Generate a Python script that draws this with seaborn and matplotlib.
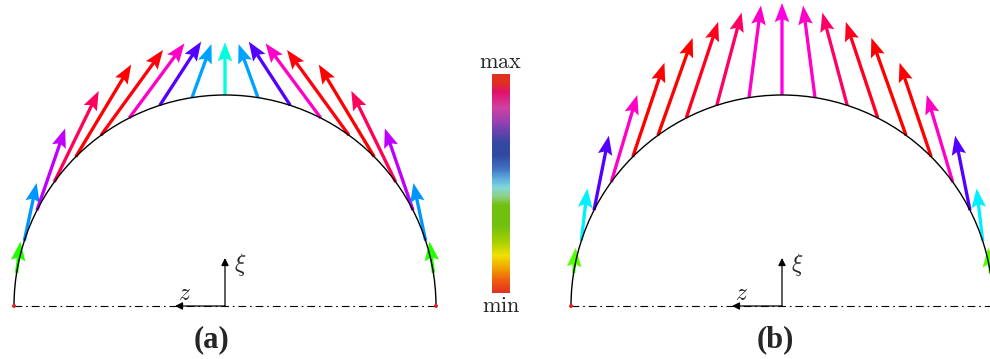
import numpy as np
import pandas as pd
import matplotlib
matplotlib.use("Agg")
import matplotlib.pyplot as plt
import seaborn as sns
from matplotlib.colors import LinearSegmentedColormap
from matplotlib.patches import Arc

# ---------------- data ----------------
# position of each arrow tail on the unit semicircle, angle from the xi axis (deg, negative = left)
theta_deg = [-81, -72, -63, -54, -45, -36, -27, -18, -9, 0, 9, 18, 27, 36, 45, 54, 63, 72, 81]

# panel (a): arrow inclination from vertical (deg, + = leaning right), length (radius units), level (0=min .. 1=max)
tilt_a = [7, 12, 19, 26, 31, 36, 36.5, 33, 20, 0, -20, -33, -36.5, -36, -31, -26, -19, -12, -7]
len_a = [0.15, 0.28, 0.41, 0.48, 0.51, 0.50, 0.44, 0.36, 0.27, 0.25, 0.27, 0.36, 0.44, 0.50, 0.51, 0.48, 0.41, 0.28, 0.15]
level_a = [0.31, 0.57, 0.79, 0.94, 1.0, 0.99, 0.87, 0.72, 0.56, 0.48, 0.56, 0.72, 0.87, 0.99, 1.0, 0.94, 0.79, 0.57, 0.31]

# panel (b)
tilt_b = [5, 6.6, 11.3, 16.6, 18.6, 19.6, 18.4, 15, 7.4, 0, -7.4, -15, -18.4, -19.6, -18.6, -16.6, -11.3, -6.6, -5]
len_b = [0.12, 0.25, 0.36, 0.43, 0.47, 0.49, 0.48, 0.455, 0.44, 0.436, 0.44, 0.455, 0.48, 0.49, 0.47, 0.43, 0.36, 0.25, 0.12]
level_b = [0.28, 0.51, 0.72, 0.87, 1.0, 1.0, 0.98, 0.93, 0.87, 0.85, 0.87, 0.93, 0.98, 1.0, 1.0, 0.87, 0.72, 0.51, 0.28]

panel_labels = ["(a)", "(b)"]
bar_labels = ["max", "min"]

# ---------------- style ----------------
sns.set_theme(style="white")
plt.rcParams["mathtext.fontset"] = "cm"
plt.rcParams["font.family"] = ["DejaVu Sans"]

W, H = 990, 359
R = 211.0  # circle radius in pixels

# vivid hue colormap for arrows (red -> yellow -> green -> cyan -> blue -> magenta -> red)
arrow_cmap = LinearSegmentedColormap.from_list(
    "hue", ["#ff0000", "#ffff00", "#00ff00", "#00ffff", "#0000ff", "#ff00ff", "#ff0000"])
# muted colormap for the colour bar
bar_cmap = LinearSegmentedColormap.from_list("bar", [
    (0.00, "#E03020"), (0.06, "#F06010"), (0.11, "#F0A000"), (0.17, "#F0E000"),
    (0.23, "#A8D000"), (0.31, "#70C010"), (0.40, "#70C010"), (0.44, "#90D080"),
    (0.48, "#80D8D8"), (0.52, "#60B0E0"), (0.57, "#4070C0"), (0.63, "#3048A0"),
    (0.68, "#3048A0"), (0.745, "#7040B0"), (0.79, "#A040B0"), (0.85, "#D040A0"),
    (0.92, "#E0106A"), (0.96, "#E03020"), (1.00, "#E03020")])

fig = plt.figure(figsize=(W / 100, H / 100), dpi=100)


def panel(px_left, px_right, cx, tilt, length, level, label, label_dx):
    ax = fig.add_axes([px_left / W, 0, (px_right - px_left) / W, 1])
    ax.set_xlim((px_left - cx) / R, (px_right - cx) / R)
    ax.set_ylim(-(H - 306) / R, 306 / R)
    ax.axis("off")

    th = np.radians(theta_deg)
    tl = np.radians(tilt)
    L = np.asarray(length)
    df = pd.DataFrame({"x": np.sin(th), "y": np.cos(th),
                       "u": L * np.sin(tl), "v": L * np.cos(tl), "lev": level})

    ax.quiver(df.x, df.y, df.u, df.v, color=arrow_cmap(df.lev.values),
              angles="xy", scale_units="xy", scale=1, units="dots",
              width=3.3, headwidth=4.4, headlength=5.8, headaxislength=5.0,
              pivot="tail", zorder=3)

    ax.add_patch(Arc((0, 0), 2, 2, theta1=0, theta2=180, lw=1.0, color="black", zorder=4))

    base = pd.DataFrame({"x": [-1.0, 1.0], "y": [0.0, 0.0]})
    sns.lineplot(data=base, x="x", y="y", ax=ax, color="black", lw=0.8,
                 linestyle=(0, (7, 3.5, 1.5, 3.5)), zorder=2)
    sns.scatterplot(data=base, x="x", y="y", ax=ax, color="#e02020", s=8,
                    edgecolor="none", zorder=5)

    ak = dict(arrowstyle="-|>", lw=0.9, color="black", mutation_scale=11, shrinkA=0, shrinkB=0)
    ax.annotate("", xy=(0, 48 / R), xytext=(0, 0), arrowprops=ak, zorder=5)
    ax.annotate("", xy=(-50 / R, 0), xytext=(0, 0), arrowprops=ak, zorder=5)
    ax.text(0.072, 0.195, r"$\xi$", fontsize=17, ha="center", va="center")
    ax.text(-0.19, 0.062, r"$z$", fontsize=17, ha="center", va="center")
    ax.text(label_dx, -0.162, label, fontsize=22, fontweight="bold",
            family=["Liberation Serif"], ha="center", va="center")
    return ax


panel(0, 450, 225, tilt_a, len_a, level_a, panel_labels[0], -0.062)
panel(545, 990, 782, tilt_b, len_b, level_b, panel_labels[1], -0.033)

# colour bar drawn as a seaborn heatmap
cax = fig.add_axes([492 / W, (H - 293) / H, 18 / W, 219 / H])
grad = pd.DataFrame(np.linspace(1, 0, 256)[:, None])
sns.heatmap(grad, ax=cax, cmap=bar_cmap, vmin=0, vmax=1, cbar=False,
            xticklabels=False, yticklabels=False)
cax.axis("off")
fig.text(501 / W, 1 - 62 / H, r"$\mathrm{" + bar_labels[0] + "}$", fontsize=16, ha="center", va="center")
fig.text(501 / W, 1 - 306 / H, r"$\mathrm{" + bar_labels[1] + "}$", fontsize=16, ha="center", va="center")

fig.savefig("out.png", dpi=100)
